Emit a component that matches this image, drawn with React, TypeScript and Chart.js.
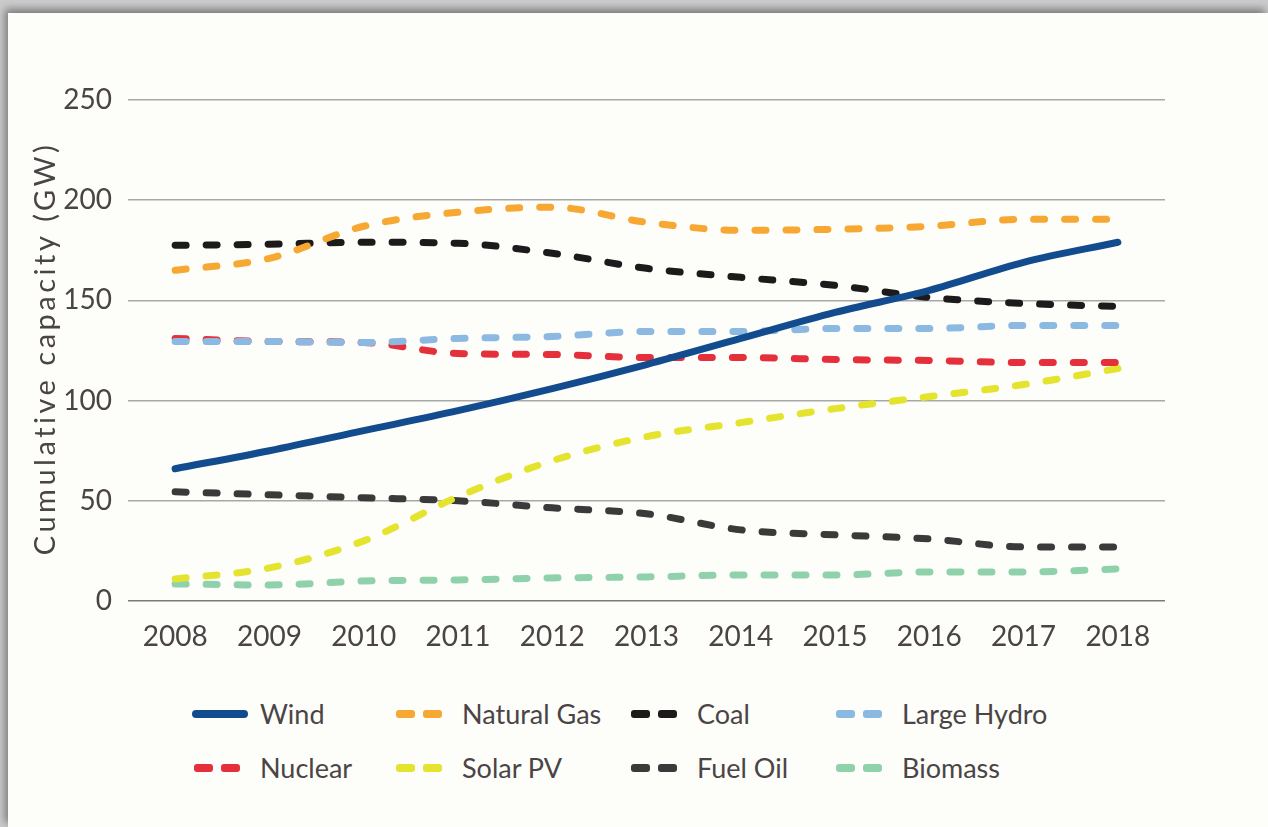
import React, { useEffect, useRef } from "react";
import { Chart, registerables } from "chart.js";

Chart.register(...registerables);

const years = ["2008", "2009", "2010", "2011", "2012", "2013", "2014", "2015", "2016", "2017", "2018"];
const wind = [66, 75, 85, 95, 106, 118, 131, 144, 155, 169, 179];
const naturalGas = [165, 171, 187, 194, 196.5, 189, 185, 185.5, 187, 190.5, 190.5];
const coal = [177.5, 178, 179, 178.5, 173.5, 166, 161.5, 157.5, 151.5, 148.5, 147];
const largeHydro = [129.5, 129.5, 129, 131, 132, 134.5, 134.5, 136, 136, 137.5, 137.5];
const nuclear = [131, 129.5, 129, 123.5, 123, 121.5, 121.5, 120.5, 120, 119, 119];
const solarPV = [11, 16.5, 30, 52, 70, 82, 89, 96, 102, 108, 116];
const fuelOil = [54.5, 53, 51.5, 50, 46.5, 43.5, 35.5, 33, 31, 27, 27];
const biomass = [8.5, 8, 10, 10.5, 11.5, 12, 13, 13, 14.5, 14.5, 16];
const yTicks = [0, 50, 100, 150, 200, 250];
const yTitle = "Cumulative capacity (GW)";

const seriesNames = ["Wind", "Natural Gas", "Coal", "Large Hydro", "Nuclear", "Solar PV", "Fuel Oil", "Biomass"];
const seriesData = [wind, naturalGas, coal, largeHydro, nuclear, solarPV, fuelOil, biomass];
const seriesColors = ["#124c8e", "#f6a832", "#1c1a1a", "#8cb9e1", "#e5303b", "#e4e32e", "#3b3a3a", "#8fd1ab"];
const seriesDashed = [false, true, true, true, true, true, true, true];

const FONT = "Lato, 'Open Sans', sans-serif";
const TEXT = "#4a4446";

const yTitlePlugin = {
  id: "yTitleSpaced",
  afterDraw(chart: any) {
    const ctx = chart.ctx as CanvasRenderingContext2D;
    const area = chart.chartArea;
    ctx.save();
    ctx.translate(46, (area.top + area.bottom) / 2);
    ctx.rotate(-Math.PI / 2);
    (ctx as any).letterSpacing = "3.5px";
    ctx.font = `29px ${FONT}`;
    ctx.fillStyle = TEXT;
    ctx.textAlign = "center";
    ctx.textBaseline = "middle";
    ctx.fillText(yTitle, 2, 0);
    ctx.restore();
  },
};

function LegendMarker({ color, dashed }: { color: string; dashed: boolean }) {
  if (!dashed) {
    return (
      <svg width="56" height="12" style={{ display: "block" }}>
        <line x1="4" y1="6" x2="52" y2="6" stroke={color} strokeWidth="8" strokeLinecap="round" />
      </svg>
    );
  }
  return (
    <svg width="56" height="12" style={{ display: "block" }}>
      <rect x="2" y="2" width="19" height="8" rx="3" fill={color} />
      <rect x="29" y="2" width="19" height="8" rx="3" fill={color} />
    </svg>
  );
}

export default function App() {
  const canvasRef = useRef<HTMLCanvasElement | null>(null);

  useEffect(() => {
    const canvas = canvasRef.current;
    if (!canvas) return;
    const chart = new Chart(canvas, {
      type: "line",
      data: {
        labels: years,
        datasets: seriesNames.map((name, i) => ({
          label: name,
          data: seriesData[i],
          borderColor: seriesColors[i],
          backgroundColor: seriesColors[i],
          borderWidth: 7,
          borderDash: seriesDashed[i] ? [11, 20] : [],
          borderCapStyle: "round",
          pointRadius: 0,
          cubicInterpolationMode: "monotone",
          fill: false,
        })),
      },
      options: {
        animation: false,
        responsive: false,
        maintainAspectRatio: false,
        layout: { padding: { top: 100, right: 103, left: 0, bottom: 0 } },
        plugins: {
          legend: { display: false },
          tooltip: { enabled: false },
          title: { display: false },
        },
        scales: {
          x: {
            offset: true,
            grid: { display: false, drawTicks: false },
            border: { display: false },
            ticks: {
              color: TEXT,
              font: { family: FONT, size: 28 },
              padding: 19,
              maxRotation: 0,
            },
            afterFit: (scale: any) => {
              scale.height = 79;
            },
          },
          y: {
            min: 0,
            max: 250,
            afterBuildTicks: (scale: any) => {
              scale.ticks = yTicks.map((v) => ({ value: v }));
            },
            grid: {
              drawTicks: false,
              color: (ctx: any) => (ctx.tick && ctx.tick.value === 0 ? "#7a7a7a" : "#a8a8a8"),
              lineWidth: 1.5,
            },
            border: { display: false },
            ticks: {
              color: TEXT,
              font: { family: FONT, size: 28 },
              padding: 16,
            },
            afterFit: (scale: any) => {
              scale.width = 128;
            },
          },
        },
      },
      plugins: [yTitlePlugin],
    } as any);
    return () => chart.destroy();
  }, []);

  const colX = [196, 398, 633, 838];
  const rowY = [714, 768];

  return (
    <div
      style={{
        position: "fixed",
        left: 0,
        top: 0,
        width: 1268,
        height: 827,
        background: "#cbcbcb",
        overflow: "hidden",
      }}
    >
      <div
        style={{
          position: "absolute",
          left: 8,
          top: 13,
          right: 0,
          bottom: 0,
          background: "#fdfdf9",
          boxShadow: "-3px -4px 8px rgba(0,0,0,0.4)",
        }}
      />
      <canvas
        ref={canvasRef}
        width={1268}
        height={680}
        style={{ position: "absolute", left: 0, top: 0, width: 1268, height: 680 }}
      />
      {seriesNames.map((name, i) => {
        const col = i % 4;
        const row = Math.floor(i / 4);
        return (
          <div
            key={name}
            style={{
              position: "absolute",
              left: colX[col] - 4,
              top: rowY[row] - 20,
              height: 40,
              display: "flex",
              alignItems: "center",
              whiteSpace: "nowrap",
            }}
          >
            <LegendMarker color={seriesColors[i]} dashed={seriesDashed[i]} />
            <span
              style={{
                marginLeft: 12,
                fontFamily: FONT,
                fontSize: 27,
                color: TEXT,
                lineHeight: "40px",
              }}
            >
              {name}
            </span>
          </div>
        );
      })}
    </div>
  );
}
